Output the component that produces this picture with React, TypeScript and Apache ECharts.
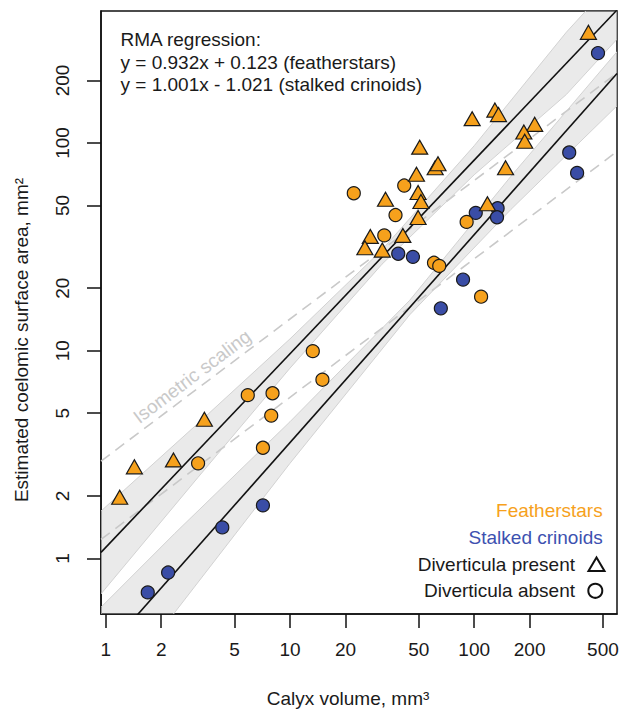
import React, { useEffect, useRef } from "react";
import * as echarts from "echarts";

// ---- axis ticks (data units) ----
const xTicks = [1, 2, 5, 10, 20, 50, 100, 200, 500];
const yTicks = [1, 2, 5, 10, 20, 50, 100, 200];
const xRange = [0.942, 596];
const yRange = [0.54, 432];

// ---- points: [calyx volume mm3, coelomic surface area mm2] ----
const featherstarsPresent: [number, number][] = [
  [417, 341], [129.5, 144], [135.5, 137], [97.5, 131], [213, 123], [186, 113],
  [188, 102], [50.6, 95.5], [61.4, 76], [63.6, 79.4], [148, 76], [48.6, 70.7],
  [49.6, 57.8], [51.4, 52.3], [33, 53.6], [118, 51], [49.6, 43.8], [27.3, 35.5],
  [41, 35.9], [25.5, 31.3], [31.7, 30.5], [3.43, 4.68], [2.33, 2.98], [1.43, 2.76],
  [1.19, 1.97],
];
const featherstarsAbsent: [number, number][] = [
  [22.2, 57.3], [41.7, 62.4], [37.4, 45], [32.5, 35.9], [91, 41.7], [60.5, 26.5],
  [64.6, 25.6], [109, 18.2], [13.3, 9.95], [15.0, 7.25], [5.9, 6.11], [8.04, 6.24],
  [7.91, 4.87], [7.13, 3.41], [3.17, 2.87],
];
const stalkedAbsent: [number, number][] = [
  [470, 271], [328, 90], [362, 71.8], [102, 46.1], [134, 48.5], [133, 43.9],
  [38.7, 29.3], [46.5, 28.3], [87, 22], [65.9, 16.0], [7.13, 1.8], [4.29, 1.41],
  [2.18, 0.855], [1.69, 0.686],
];

// ---- RMA fits (natural-log scale, as printed) ----
const featherFit = { slope: 0.932, intercept: 0.123 };
const stalkedFit = { slope: 1.001, intercept: -1.021 };

// ---- isometric scaling reference lines ----
const isoUpper: [number, number][] = [[0.942, 2.94], [596, 217]];
const isoLower: [number, number][] = [[0.942, 1.235], [596, 91]];

// ---- confidence bands ----
const bandFeatherX = [0.942, 3.16, 10, 31.6, 100, 316, 596];
const bandFeatherUpper = [1.69, 4.46, 11.4, 30.6, 97, 341, 631];
const bandFeatherLower = [0.675, 2.45, 8.24, 26.1, 70.3, 171, 316];
const bandStalkedX = [0.942, 2.37, 10, 44.7, 158, 596];
const bandStalkedUpper = [0.582, 1.32, 4.55, 17.5, 69, 275];
const bandStalkedLower = [0.198, 0.55, 2.87, 14.9, 47.8, 151];

const ORANGE = "#F6A11C";
const BLUE = "#3A4DA6";
const FONT = '"Liberation Sans", Arial, Helvetica, sans-serif';

export default function App() {
  const ref = useRef<HTMLDivElement>(null);
  useEffect(() => {
    const chart = echarts.init(ref.current!, null, { renderer: "svg" });
    const L = (v: number) => Math.log10(v);
    const toLog = (arr: [number, number][]) => arr.map(([x, y]) => [L(x), L(y)]);
    const fitLine = (fit: { slope: number; intercept: number }) =>
      xRange.map((x) => [L(x), (fit.slope * Math.log(x) + fit.intercept) / Math.LN10]);
    const bandPoly = (xs: number[], up: number[], lo: number[]) => [
      ...xs.map((x, i) => [L(x), L(up[i])]),
      ...xs.map((x, i) => [L(x), L(lo[i])]).reverse(),
    ];
    const bands = [
      bandPoly(bandFeatherX, bandFeatherUpper, bandFeatherLower),
      bandPoly(bandStalkedX, bandStalkedUpper, bandStalkedLower),
    ];
    const fmt = (v: number) => String(Math.round(Math.pow(10, v)));
    const tickStyle = { color: "#111", width: 1.5 };

    const textEl = (x: number, y: number, text: string, opts: any = {}) => ({
      type: "text",
      x,
      y,
      silent: true,
      rotation: opts.rotation || 0,
      style: {
        text,
        fill: opts.fill || "#1a1a1a",
        font: `${opts.size || 19}px ${FONT}`,
        textAlign: opts.align || "left",
        textVerticalAlign: "middle",
      },
    });

    chart.setOption({
      animation: false,
      grid: {
        left: 101,
        right: 7,
        top: 11,
        bottom: 97,
        show: true,
        borderColor: "#111",
        borderWidth: 1.5,
      },
      xAxis: {
        type: "value",
        min: L(xRange[0]),
        max: L(xRange[1]),
        axisLine: { show: true, onZero: false, lineStyle: tickStyle },
        axisTick: { show: true, customValues: xTicks.map(L), length: 14, lineStyle: tickStyle },
        axisLabel: {
          customValues: xTicks.map(L),
          formatter: fmt,
          fontSize: 19,
          fontFamily: FONT,
          color: "#1a1a1a",
          margin: 26,
        },
        splitLine: { show: false },
      },
      yAxis: {
        type: "value",
        min: L(yRange[0]),
        max: L(yRange[1]),
        axisLine: { show: true, onZero: false, lineStyle: tickStyle },
        axisTick: { show: true, customValues: yTicks.map(L), length: 14, lineStyle: tickStyle },
        axisLabel: {
          customValues: yTicks.map(L),
          formatter: fmt,
          fontSize: 19,
          fontFamily: FONT,
          color: "#1a1a1a",
          rotate: 90,
          margin: 29,
        },
        splitLine: { show: false },
      },
      series: [
        ...[isoUpper, isoLower].map((d) => ({
          type: "line",
          data: toLog(d),
          symbol: "none",
          silent: true,
          z: 1,
          lineStyle: { color: "#c9c9c9", width: 1.6, type: [11, 7] },
        })),
        ...bands.map((poly) => ({
          type: "custom",
          silent: true,
          clip: true,
          z: 2,
          data: [[0, 0]],
          renderItem: (_p: any, api: any) => ({
            type: "polygon",
            shape: { points: poly.map((p) => api.coord(p)) },
            style: { fill: "rgba(200,200,200,0.38)", stroke: "#d2d2d2", lineWidth: 1 },
          }),
        })),
        ...[featherFit, stalkedFit].map((f) => ({
          type: "line",
          data: fitLine(f),
          symbol: "none",
          silent: true,
          z: 3,
          lineStyle: { color: "#111", width: 1.6 },
        })),
        {
          type: "scatter",
          data: toLog(stalkedAbsent),
          symbol: "circle",
          symbolSize: 13,
          z: 4,
          itemStyle: { color: BLUE, borderColor: "#1a1a1a", borderWidth: 1.2, opacity: 1 },
        },
        {
          type: "scatter",
          data: toLog(featherstarsAbsent),
          symbol: "circle",
          symbolSize: 13,
          z: 4,
          itemStyle: { color: ORANGE, borderColor: "#1a1a1a", borderWidth: 1.2, opacity: 1 },
        },
        {
          type: "scatter",
          data: toLog(featherstarsPresent),
          symbol: "triangle",
          symbolSize: [16, 14],
          z: 4,
          itemStyle: { color: ORANGE, borderColor: "#1a1a1a", borderWidth: 1.2, opacity: 1 },
        },
      ],
      graphic: [
        textEl(120.5, 39.5, "RMA regression:"),
        textEl(120.5, 62, "y = 0.932x + 0.123 (featherstars)"),
        textEl(120.5, 84.5, "y = 1.001x - 1.021 (stalked crinoids)"),
        textEl(192, 376.5, "Isometric scaling", { fill: "#c9c9c9", align: "center", rotation: (37 * Math.PI) / 180 }),
        textEl(602.7, 510.7, "Featherstars", { fill: ORANGE, align: "right" }),
        textEl(602.7, 537.3, "Stalked crinoids", { fill: "#3D51B0", align: "right" }),
        textEl(575, 564, "Diverticula present", { align: "right" }),
        textEl(575, 590.7, "Diverticula absent", { align: "right" }),
        {
          type: "polygon",
          silent: true,
          shape: { points: [[588.5, 571], [604.5, 571], [596.5, 557.5]] },
          style: { fill: "none", stroke: "#111", lineWidth: 2 },
        },
        {
          type: "circle",
          silent: true,
          shape: { cx: 595.3, cy: 590.8, r: 7 },
          style: { fill: "none", stroke: "#111", lineWidth: 2 },
        },
        textEl(348, 698, "Calyx volume, mm³", { align: "center" }),
        textEl(21.5, 340, "Estimated coelomic surface area, mm²", {
          align: "center",
          rotation: Math.PI / 2,
        }),
      ],
    });
    return () => chart.dispose();
  }, []);
  return (
    <div
      ref={ref}
      style={{ position: "fixed", left: 0, top: 0, width: 624, height: 711, background: "#fff" }}
    />
  );
}
